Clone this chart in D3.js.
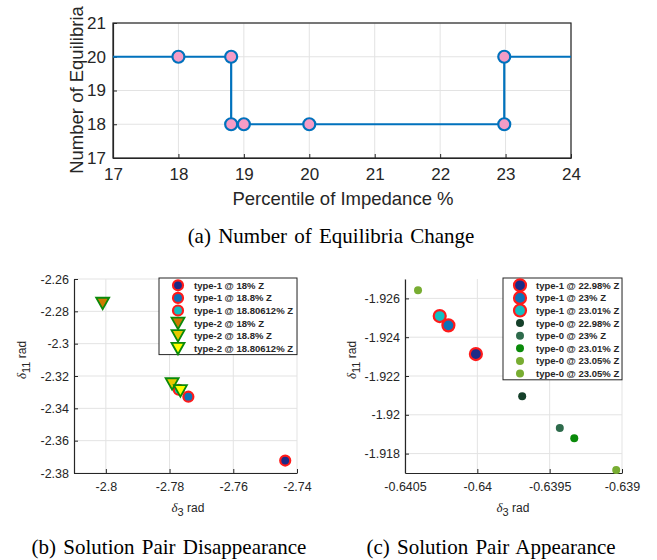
<!DOCTYPE html>
<html>
<head>
<meta charset="utf-8">
<script src="https://cdn.jsdelivr.net/npm/d3@7"></script>
<style>
  body { margin: 0; background: #fff; }
  svg text { font-family: "Liberation Sans", Arial, sans-serif; fill: #262626; }
  .cap { font-family: "Liberation Serif", "Times New Roman", serif; fill: #000; word-spacing: 2px; }
</style>
</head>
<body>
<div id="chart"></div>
<script>
// (a) number of equilibria vs impedance percentile
var stepX = [17, 18, 18.806, 18.806, 19, 20, 22.98, 22.98, 24];
var stepY = [20, 20, 20, 18, 18, 18, 18, 20, 20];
var markX = [18, 18.806, 18.806, 19, 20, 22.98, 22.98];
var markY = [20, 20, 18, 18, 18, 18, 20];
var aXTicks = [17, 18, 19, 20, 21, 22, 23, 24];
var aYTicks = [17, 18, 19, 20, 21];

// (b) solution pair disappearance
var bNames = ["type-1 @ 18% Z", "type-1 @ 18.8% Z", "type-1 @ 18.80612% Z",
              "type-2 @ 18% Z", "type-2 @ 18.8% Z", "type-2 @ 18.80612% Z"];
var bShape = ["o", "o", "o", "v", "v", "v"];
var bX = [-2.7437, -2.7741, -2.7771, -2.8010, -2.7792, -2.7766];
var bY = [-2.3723, -2.3328, -2.3285, -2.2750, -2.3248, -2.3291];
var bFill = ["#1c2b87", "#0d72b8", "#14bfc2", "#cc7a00", "#e8c800", "#ffff00"];
var bXTicks = [-2.8, -2.78, -2.76, -2.74];
var bYTicks = [-2.26, -2.28, -2.3, -2.32, -2.34, -2.36, -2.38];

// (c) solution pair appearance
var cNames = ["type-1 @ 22.98% Z", "type-1 @ 23% Z", "type-1 @ 23.01% Z",
              "type-0 @ 22.98% Z", "type-0 @ 23% Z", "type-0 @ 23.01% Z",
              "type-0 @ 23.05% Z", "type-0 @ 23.05% Z"];
var cShape = ["O", "O", "O", "d", "d", "d", "d", "d"];
var cX = [-0.64001, -0.64020, -0.64026, -0.63969, -0.63943, -0.63933, -0.64041, -0.63904];
var cY = [-1.92313, -1.92461, -1.92509, -1.92095, -1.91932, -1.91879, -1.92642, -1.91715];
var cFill = ["#1c2b87", "#0d72b8", "#14bfc2", "#15402a", "#2e6b4c", "#0a8a0a", "#78ad32", "#78ad32"];
var cXTicks = [-0.6405, -0.64, -0.6395, -0.639];
var cYTicks = [-1.926, -1.924, -1.922, -1.92, -1.918];

var svg = d3.select("#chart").append("svg").attr("width", 657).attr("height", 560);

function grid(g, x, y, xt, yt) {
  g.selectAll(".gx").data(xt).enter().append("line")
    .attr("x1", d => x(d)).attr("x2", d => x(d))
    .attr("y1", y.range()[0]).attr("y2", y.range()[1])
    .attr("stroke", "#e3e3e3").attr("stroke-width", 1);
  g.selectAll(".gy").data(yt).enter().append("line")
    .attr("y1", d => y(d)).attr("y2", d => y(d))
    .attr("x1", x.range()[0]).attr("x2", x.range()[1])
    .attr("stroke", "#e3e3e3").attr("stroke-width", 1);
}

// plain hyphen minus like MATLAB
function fmt(d) { return String(d); }

function axes(g, x, y, xt, yt, fs, box, yb, xpad, ypad) {
  var xa = g.append("g").attr("transform", "translate(0," + yb + ")")
    .call(d3.axisBottom(x).tickValues(xt).tickFormat(fmt).tickSizeInner(-4).tickSizeOuter(0).tickPadding(xpad));
  var ya = g.append("g").attr("transform", "translate(" + x.range()[0] + ",0)")
    .call(d3.axisLeft(y).tickValues(yt).tickFormat(fmt).tickSizeInner(-4).tickSizeOuter(0).tickPadding(ypad));
  [xa, ya].forEach(function(a) {
    a.selectAll("path,line").attr("stroke", "#262626");
    a.selectAll("text").style("font-size", fs + "px").style("font-family", '"Liberation Sans", Arial, sans-serif').attr("fill", "#262626");
  });
  xa.select(".domain").attr("stroke-width", 1.2);
  ya.select(".domain").attr("stroke-width", 1.2);
  if (box) {
    g.append("rect").attr("x", x.range()[0]).attr("y", Math.min(y.range()[0], y.range()[1]))
      .attr("width", x.range()[1] - x.range()[0]).attr("height", Math.abs(y.range()[0] - y.range()[1]))
      .attr("fill", "none").attr("stroke", "#262626").attr("stroke-width", 1.2);
  }
}

// ---------- (a) ----------
var ax = d3.scaleLinear().domain([17, 24]).range([113, 571]);
var ay = d3.scaleLinear().domain([17, 21]).range([158, 23]);
var ga = svg.append("g");
grid(ga, ax, ay, aXTicks, aYTicks);
axes(ga, ax, ay, aXTicks, aYTicks, 17, true, 158, 10, 7);
ga.append("path")
  .datum(d3.zip(stepX, stepY))
  .attr("d", d3.line().x(d => ax(d[0])).y(d => ay(d[1])))
  .attr("fill", "none").attr("stroke", "#0072bd").attr("stroke-width", 2.2);
ga.selectAll(".m").data(d3.zip(markX, markY)).enter().append("circle")
  .attr("cx", d => ax(d[0])).attr("cy", d => ay(d[1])).attr("r", 6)
  .attr("fill", "#f59cc6").attr("stroke", "#0072bd").attr("stroke-width", 2.2);
ga.append("text").attr("x", 343).attr("y", 205).attr("text-anchor", "middle")
  .style("font-size", "18.5px").text("Percentile of Impedance %");
ga.append("text").attr("transform", "translate(83,90) rotate(-90)").attr("text-anchor", "middle")
  .style("font-size", "18.5px").text("Number of Equilibria");
svg.append("text").attr("class", "cap").attr("x", 331).attr("y", 243).attr("text-anchor", "middle")
  .style("font-size", "21px").text("(a)  Number of Equilibria Change");

// marker helper
function marker(sel, shape, fill) {
  if (shape === "v") {
    sel.append("path").attr("d", "M-6.5,-5.5L6.5,-5.5L0,6z")
      .attr("fill", fill).attr("stroke", "#0a8a0a").attr("stroke-width", 1.8);
  } else if (shape === "o") {
    sel.append("circle").attr("r", 5).attr("fill", fill).attr("stroke", "#ff1a1a").attr("stroke-width", 2.2);
  } else if (shape === "O") {
    sel.append("circle").attr("r", 6).attr("fill", fill).attr("stroke", "#ff1a1a").attr("stroke-width", 2.2);
  } else {
    sel.append("circle").attr("r", 4).attr("fill", fill);
  }
}

function yLabel(g, x, y) {
  var t = g.append("text").attr("transform", "translate(" + x + "," + y + ") rotate(-90)")
    .attr("text-anchor", "middle").style("font-size", "12px");
  t.append("tspan").style("font-family", '"Liberation Serif", serif').style("font-style", "italic").style("font-size", "13px").text("δ");
  t.append("tspan").attr("dy", 4).style("font-size", "11px").text("11");
  t.append("tspan").attr("dy", -4).text(" rad");
}
function xLabel(g, x, y) {
  var t = g.append("text").attr("x", x).attr("y", y).attr("text-anchor", "middle").style("font-size", "12px");
  t.append("tspan").style("font-family", '"Liberation Serif", serif').style("font-style", "italic").style("font-size", "13px").text("δ");
  t.append("tspan").attr("dy", 4).style("font-size", "11px").text("3");
  t.append("tspan").attr("dy", -4).text(" rad");
}

function legend(g, x0, y0, w, names, shapes, fills, mx, tx) {
  var rh = 12.6;
  g.append("rect").attr("x", x0).attr("y", y0).attr("width", w).attr("height", names.length * rh + 1)
    .attr("fill", "#fff").attr("stroke", "#262626").attr("stroke-width", 1);
  names.forEach(function(n, i) {
    var cy = y0 + rh * (i + 0.5) + 1;
    marker(g.append("g").attr("transform", "translate(" + mx + "," + cy + ")"), shapes[i], fills[i]);
    g.append("text").attr("x", tx).attr("y", cy + 3.5).style("font-size", "9.5px").style("font-weight", "bold")
      .attr("fill", "#000").text(n);
  });
}

// ---------- (b) ----------
var bx = d3.scaleLinear().domain([-2.81, -2.74]).range([74, 297]);
var by = d3.scaleLinear().domain([-2.38, -2.26]).range([473, 279]);
var gb = svg.append("g");
grid(gb, bx, by, bXTicks, bYTicks);
axes(gb, bx, by, bXTicks, bYTicks, 12.5, false, 473, 9, 5);
bNames.forEach(function(n, i) {
  marker(gb.append("g").attr("transform", "translate(" + bx(bX[i]) + "," + by(bY[i]) + ")"), bShape[i], bFill[i]);
});
legend(gb, 159, 278, 138, bNames, bShape, bFill, 178, 194);
yLabel(gb, 26, 360);
xLabel(gb, 188, 512);
svg.append("text").attr("class", "cap").attr("x", 169).attr("y", 554).attr("text-anchor", "middle")
  .style("font-size", "21px").text("(b)  Solution Pair Disappearance");

// ---------- (c) ----------
var cx = d3.scaleLinear().domain([-0.6405, -0.639]).range([405, 622]);
var cy = d3.scaleLinear().domain([-1.927, -1.917]).range([279, 473]);
var gc = svg.append("g");
grid(gc, cx, cy, cXTicks, cYTicks);
axes(gc, cx, cy, cXTicks, cYTicks, 12.5, false, 473, 9, 5);
// draw type-0 first, then type-1 on top
[3, 4, 5, 6, 7, 0, 1, 2].forEach(function(i) {
  marker(gc.append("g").attr("transform", "translate(" + cx(cX[i]) + "," + cy(cY[i]) + ")"), cShape[i], cFill[i]);
});
legend(gc, 503, 278, 119, cNames, cShape, cFill, 520, 536);
yLabel(gc, 356, 360);
xLabel(gc, 513, 512);
svg.append("text").attr("class", "cap").attr("x", 491).attr("y", 554).attr("text-anchor", "middle")
  .style("font-size", "21px").text("(c)  Solution Pair Appearance");
</script>
</body>
</html>
